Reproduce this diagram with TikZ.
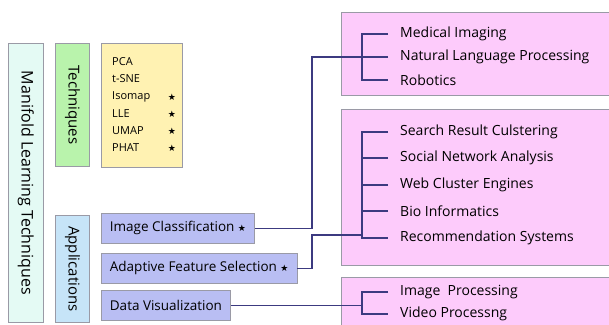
\documentclass[tikz,border=0pt]{standalone}
\usepackage{fontspec}
\setmainfont{Open Sans}
\newfontfamily\symfont{DejaVu Sans}
\newcommand{\mystar}{{\symfont\fontsize{9}{10}\selectfont ★}}
\definecolor{outerfill}{HTML}{E4FAF4}
\definecolor{techfill}{HTML}{B9F3AC}
\definecolor{listfill}{HTML}{FFF2B2}
\definecolor{applfill}{HTML}{C6E4F8}
\definecolor{appfill}{HTML}{B9BEF3}
\definecolor{pinkfill}{HTML}{FDCBFB}
\definecolor{linkblue}{HTML}{3C3A80}
\definecolor{frame}{HTML}{9A9AA6}
\tikzset{
  panel/.style={draw=frame, line width=0.8pt, anchor=north west, inner sep=0pt},
  appbox/.style={panel, fill=appfill, minimum height=30, inner xsep=8.5pt,
    font=\fontsize{13.5}{15}\selectfont},
  item/.style={anchor=west, inner sep=0pt, font=\fontsize{14}{16}\selectfont},
  tech/.style={anchor=west, inner sep=0pt, font=\fontsize{11}{12}\selectfont},
  vlabel/.style={rotate=-90, font=\fontsize{15}{17}\selectfont},
  link/.style={draw=linkblue, line width=1.1pt},
}
\begin{document}
\begin{tikzpicture}[x=1pt,y=-1pt]
  \useasboundingbox (0,0) rectangle (609,324);
  % left column
  \node[panel, fill=outerfill, minimum width=35, minimum height=279] (mlt) at (8,43) {};
  \node[vlabel, font=\fontsize{16}{18}\selectfont] (mlttxt) at (mlt.center) {Manifold Learning Techniques};
  \node[panel, fill=techfill, minimum width=34, minimum height=123] (tech) at (55,43) {};
  \node[vlabel] (techtxt) at (tech.center) {Techniques};
  \node[panel, fill=applfill, minimum width=34, minimum height=107] (appl) at (55,215) {};
  \node[vlabel] (appltxt) at (appl.center) {Applications};
  % technique list
  \node[panel, fill=listfill, minimum width=81, minimum height=124] (list) at (101,43) {};
  \node[tech] (pca) at (112,62) {PCA};
  \node[tech] (tsne) at (112,79) {t-SNE};
  \node[tech] (iso) at (112,97) {Isomap};
  \node[tech] (lle) at (112,114) {LLE};
  \node[tech] (umap) at (112,131) {UMAP};
  \node[tech] (phat) at (112,148) {PHAT};
  \foreach \n in {iso,lle,umap,phat}
    \node (s\n) at (172,0 |- \n) {\mystar};
  % applications
  \node[appbox] (imgcls) at (101,213) {Image Classification \mystar};
  \node[appbox] (adapt) at (101,253) {Adaptive Feature Selection \mystar};
  \node[appbox] (datavis) at (101,290) {Data Visualization};
  % target panels
  \node[panel, fill=pinkfill, minimum width=272, minimum height=83] (pink1) at (341,12) {};
  \node[panel, fill=pinkfill, minimum width=272, minimum height=156] (pink2) at (341,109) {};
  \node[panel, fill=pinkfill, minimum width=272, minimum height=56] (pink3) at (341,277) {};
  \node[item] (med) at (400,34) {Medical Imaging};
  \node[item] (nlp) at (400,57) {Natural Language Processing};
  \node[item] (rob) at (400,80) {Robotics};
  \node[item] (search) at (400,132) {Search Result Culstering};
  \node[item] (social) at (400,158) {Social Network Analysis};
  \node[item] (web) at (400,185) {Web Cluster Engines};
  \node[item] (bio) at (400,211) {Bio Informatics};
  \node[item] (rec) at (400,238) {Recommendation Systems};
  \node[item] (imgp) at (400,292) {Image~ Processing};
  \node[item] (vidp) at (400,314) {Video Processng};
  % brackets
  \draw[link] ([xshift=-12pt]med.west) -- ++(-26,0) |- ([xshift=-12pt]rob.west);
  \draw[link] ([xshift=-12pt]nlp.west) -- ++(-26,0);
  \draw[link] ([xshift=-12pt]search.west) -- ++(-26,0) |- ([xshift=-12pt]rec.west);
  \foreach \n in {social,web,bio}
    \draw[link] ([xshift=-12pt]\n.west) -- ++(-26,0);
  \draw[link] ([xshift=-12pt]imgp.west) -- ++(-26,0) |- ([xshift=-12pt]vidp.west);
  % connectors
  \coordinate (turn) at (312,0);
  \coordinate (recjoin) at (362,235);
  \coordinate (visjoin) at (362,303);
  \draw[link] (imgcls.east) -- (imgcls.east -| turn) |- ([xshift=-38pt]nlp.west);
  \draw[link] (adapt.east) -- (adapt.east -| turn) |- (recjoin);
  \draw[link] (datavis.east) -- (datavis.east -| visjoin);
\end{tikzpicture}
\end{document}
